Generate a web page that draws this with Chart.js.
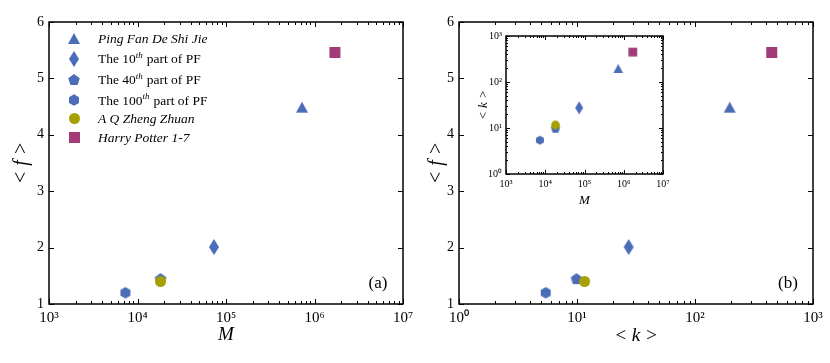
<!DOCTYPE html>
<html><head><meta charset="utf-8">
<script src="https://cdn.jsdelivr.net/npm/chart.js@4.4.1/dist/chart.umd.min.js"></script>
<style>
html,body{margin:0;padding:0;background:#fff;}
#wrap{position:relative;width:830px;height:363px;overflow:hidden;background:#fff;}
.box{position:absolute;}
</style></head><body>
<div id="wrap">
<div class="box" style="left:0;top:0;width:415px;height:363px"><canvas id="ca"></canvas></div>
<div class="box" style="left:415px;top:0;width:415px;height:363px"><canvas id="cb"></canvas></div>
<div class="box" style="left:470px;top:20px;width:200px;height:190px"><canvas id="ci"></canvas></div>
</div>
<script>
// ---------------- data ----------------
const seriesNames = ['Ping Fan De Shi Jie', 'The 10th part of PF', 'The 40th part of PF', 'The 100th part of PF', 'A Q Zheng Zhuan', 'Harry Potter 1-7'];
const legendLabels = ['Ping Fan De Shi Jie', 'The 10^{th} part of PF', 'The 40^{th} part of PF', 'The 100^{th} part of PF', 'A Q Zheng Zhuan', 'Harry Potter 1-7'];
const legendItalic = [true, false, false, false, true, true];
const seriesShapes = ['triangle', 'diamond', 'pentagon', 'hexagon', 'circle', 'square'];
const seriesColors = ['#4b6cb7', '#4b6cb7', '#4b6cb7', '#4b6cb7', '#a6a000', '#a23b78'];
const valuesM = [722000, 73100, 18200, 7300, 18200, 1700000];
const valuesF = [4.49, 2.01, 1.45, 1.20, 1.40, 5.46];
const valuesK = [197, 27.4, 9.9, 5.43, 11.6, 447];
const ticksM = [1e3, 1e4, 1e5, 1e6, 1e7];
const ticksK = [1, 10, 100, 1000];
const ticksF = [1, 2, 3, 4, 5, 6];
const panelTags = ['(a)', '(b)'];
const titleF = '< f >', titleK = '< k >', titleM = 'M';

// ---------------- helpers ----------------
const SERIF = "'Liberation Serif', 'Times New Roman', serif";
const SUP = {'0':'\u2070','1':'\u00B9','2':'\u00B2','3':'\u00B3','4':'\u2074','5':'\u2075','6':'\u2076','7':'\u2077','8':'\u2078','9':'\u2079'};
function pow10Label(v){ const e = String(Math.round(Math.log10(v))); return '10' + e.split('').map(c=>SUP[c]).join(''); }

function makeMarker(shape, s, color){
  const dims = {triangle:[12,11], diamond:[10,16], pentagon:[11.5,11], hexagon:[10,11.5], circle:[11,11], square:[11,11]};
  let w = dims[shape][0]*s, h = dims[shape][1]*s;
  const c = document.createElement('canvas');
  c.width = Math.ceil(w)+2; c.height = Math.ceil(h)+2;
  const g = c.getContext('2d'); const cx = c.width/2, cy = c.height/2;
  g.fillStyle = color; g.beginPath();
  if (shape==='triangle'){ g.moveTo(cx, cy-h/2); g.lineTo(cx+w/2, cy+h/2); g.lineTo(cx-w/2, cy+h/2); }
  else if (shape==='diamond'){ g.moveTo(cx, cy-h/2); g.lineTo(cx+w/2, cy); g.lineTo(cx, cy+h/2); g.lineTo(cx-w/2, cy); }
  else if (shape==='pentagon'){ const r = h/1.809; const oy = cy - h/2 + r; for(let k=0;k<5;k++){const a=-Math.PI/2+k*2*Math.PI/5; const px=cx+r*Math.cos(a), py=oy+r*Math.sin(a); k?g.lineTo(px,py):g.moveTo(px,py);} }
  else if (shape==='hexagon'){ const r = h/2; for(let k=0;k<6;k++){const a=-Math.PI/2+k*Math.PI/3; const px=cx+r*Math.cos(a), py=cy+r*Math.sin(a); k?g.lineTo(px,py):g.moveTo(px,py);} }
  else if (shape==='circle'){ g.arc(cx, cy, w/2, 0, Math.PI*2); }
  else { g.rect(cx-w/2, cy-h/2, w, h); }
  g.closePath(); g.fill();
  return c;
}
const markersMain = seriesShapes.map((s,i)=>makeMarker(s, 1, seriesColors[i]));
const markersInset = seriesShapes.map((s,i)=>makeMarker(s, 0.8, seriesColors[i]));

function minorLog(min, max){
  const out = [];
  for (let d = min; d < max; d *= 10) for (let m = 2; m <= 9; m++) out.push(d*m);
  return out;
}

const boxTicks = {
  id: 'boxTicks',
  afterDatasetsDraw(chart, args, o){
    const {ctx, chartArea:a} = chart; const x = chart.scales.x, y = chart.scales.y;
    ctx.save(); ctx.strokeStyle = '#000'; ctx.lineWidth = 1;
    const seg = (x1,y1,x2,y2)=>{ctx.beginPath();ctx.moveTo(x1,y1);ctx.lineTo(x2,y2);ctx.stroke();};
    const xt = (v,len)=>{const p = Math.round(x.getPixelForValue(v))+0.5; seg(p,a.bottom,p,a.bottom-len); seg(p,a.top,p,a.top+len);};
    const yt = (v,len)=>{const p = Math.round(y.getPixelForValue(v))+0.5; seg(a.left,p,a.left+len,p); seg(a.right,p,a.right-len,p);};
    o.xMajor.forEach(v=>xt(v,o.major)); if (o.xMinor) o.xMinor.forEach(v=>xt(v,o.minor));
    o.yMajor.forEach(v=>yt(v,o.major)); if (o.yMinor) o.yMinor.forEach(v=>yt(v,o.minor));
    ctx.lineWidth = o.box; ctx.strokeRect(a.left, a.top, a.right-a.left, a.bottom-a.top);
    if (o.tag){ ctx.fillStyle='#000'; ctx.font = '17px ' + SERIF; ctx.textAlign='center'; ctx.textBaseline='middle'; ctx.fillText(o.tag, a.right-25, a.bottom-20); }
    ctx.restore();
  }
};

const legendPlugin = {
  id: 'serifLegend',
  afterDraw(chart, args, o){
    if (!o.show) return;
    const ctx = chart.ctx; ctx.save(); ctx.fillStyle = '#000'; ctx.textBaseline = 'alphabetic'; ctx.textAlign='left';
    legendLabels.forEach((lab,i)=>{
      const yc = o.rows[i]; const m = markersMain[i];
      ctx.drawImage(m, Math.round(o.mx - m.width/2), Math.round(yc - m.height/2));
      const base = yc + 4.5; let xx = o.tx;
      const parts = lab.split(/\^\{|\}/);
      parts.forEach((p,j)=>{
        const sup = j % 2 === 1;
        ctx.font = (legendItalic[i] || sup ? 'italic ' : '') + (sup ? '9px ' : '13.5px ') + SERIF;
        ctx.fillText(p, xx, sup ? base - 5.5 : base);
        xx += ctx.measureText(p).width + (sup ? 0.5 : 0);
      });
    });
    ctx.restore();
  }
};

function fixFit(width, height){
  return s => {
    if (width !== undefined) s.width = width;
    if (height !== undefined) s.height = height;
    s.paddingLeft = 0; s.paddingRight = 0; s.paddingTop = 0; s.paddingBottom = 0;
  };
}
function logAxis(ticks, min, max, fontSize, pad, width, height, title, tsize, tpad){
  return {
    type: 'logarithmic', min, max,
    grid: {display:false, drawTicks:false}, border: {display:false},
    afterBuildTicks: s => { s.ticks = ticks.map(v=>({value:v})); },
    afterFit: fixFit(width, height),
    ticks: {autoSkip:false, maxRotation:0, padding: pad, color:'#000', font:{family:SERIF, size:fontSize}, callback: v => pow10Label(v)},
    title: {display:true, text:title, color:'#000', font:{family:SERIF, size:tsize, style:'italic'}, padding: tpad}
  };
}
function linAxis(ticks, min, max, width){
  return {
    type: 'linear', min, max,
    grid: {display:false, drawTicks:false}, border: {display:false},
    afterBuildTicks: s => { s.ticks = ticks.map(v=>({value:v})); },
    afterFit: fixFit(width, undefined),
    ticks: {autoSkip:false, padding: 5, color:'#000', font:{family:SERIF, size:14}},
    title: {display:true, text:titleF, color:'#000', font:{family:SERIF, size:20, style:'italic'}, padding:{top:10, bottom:0}}
  };
}
function ds(xs, ys, markers){
  return seriesNames.map((n,i)=>({label:n, data:[{x:xs[i], y:ys[i]}], pointStyle:markers[i], pointRadius:6, pointHoverRadius:6, order: seriesNames.length - i, showLine:false}));
}
const common = {responsive:true, maintainAspectRatio:false, animation:false, events:[]};

new Chart(document.getElementById('ca'), {
  type:'scatter',
  data:{datasets: ds(valuesM, valuesF, markersMain)},
  options:Object.assign({}, common, {
    layout:{padding:{left:0, right:12, top:22, bottom:0}},
    scales:{ x: logAxis(ticksM, 1e3, 1e7, 15, 5, undefined, 59, titleM, 19, {top:0, bottom:17}), y: linAxis(ticksF, 1, 6, 49) },
    plugins:{legend:{display:false}, tooltip:{enabled:false},
      boxTicks:{xMajor:ticksM, xMinor:minorLog(1e3,1e7), yMajor:ticksF, major:5, minor:3, box:1.5, tag:panelTags[0]},
      serifLegend:{show:true, mx:74, tx:98, rows:[38, 58.5, 79.5, 100, 118.5, 137]}}
  }),
  plugins:[boxTicks, legendPlugin]
});

new Chart(document.getElementById('cb'), {
  type:'scatter',
  data:{datasets: ds(valuesK, valuesF, markersMain)},
  options:Object.assign({}, common, {
    layout:{padding:{left:0, right:17, top:22, bottom:0}},
    scales:{ x: logAxis(ticksK, 1, 1000, 15, 5, undefined, 59, titleK, 19, {top:0, bottom:16}), y: linAxis(ticksF, 1, 6, 44) },
    plugins:{legend:{display:false}, tooltip:{enabled:false},
      boxTicks:{xMajor:ticksK, xMinor:minorLog(1,1000), yMajor:ticksF, major:5, minor:3, box:1.5, tag:panelTags[1]}}
  }),
  plugins:[boxTicks]
});

new Chart(document.getElementById('ci'), {
  type:'scatter',
  data:{datasets: ds(valuesM, valuesK, markersInset)},
  options:Object.assign({}, common, {
    layout:{padding:{left:0, right:6, top:16, bottom:0}},
    scales:{ x: logAxis(ticksM, 1e3, 1e7, 10, 4, undefined, 36, titleM, 13, {top:0, bottom:2}),
             y: logAxis(ticksK, 1, 1000, 10, 4, 36, undefined, titleK, 13, {top:6, bottom:0}) },
    plugins:{legend:{display:false}, tooltip:{enabled:false},
      boxTicks:{xMajor:ticksM, xMinor:minorLog(1e3,1e7), yMajor:ticksK, yMinor:minorLog(1,1000), major:4, minor:2, box:1.5}}
  }),
  plugins:[boxTicks]
});
</script>
</body></html>
